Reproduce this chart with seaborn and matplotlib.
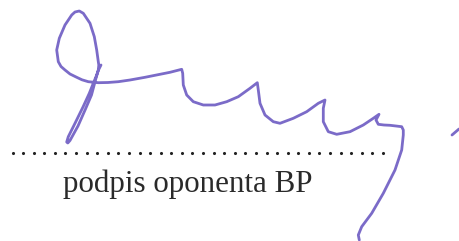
import matplotlib
matplotlib.use("Agg")
import matplotlib.pyplot as plt
import numpy as np
import pandas as pd
import seaborn as sns

# signature stroke in pixel space (x right, y down)
sig_x = [101, 98.5, 96.7, 93.3, 89.3, 83, 75, 68.3, 66.7, 67.8, 70, 78,
         85.5, 91.5, 95.5, 98.3, 98.8, 98.3, 96.7, 94.3, 90, 83.3, 79.3, 75,
         71.7, 65, 59.3, 56.7, 58.3, 61, 65, 70, 76.7, 82, 88.3, 98.3, 108,
         118.3, 130, 145, 160, 170, 177, 181.7, 182.7, 183.3, 186.7, 193.3,
         203.3, 215, 226.7, 238.3, 250, 257.3, 258.3, 260, 265, 273.3, 280,
         293.3, 306.7, 318.3, 325, 323.3, 323.3, 328.3, 336.7, 350, 363.3,
         373.3, 379, 376, 378.3, 384, 390, 396, 401.7, 403.3, 403.3, 401.7,
         395, 383.3, 371.7, 361.7, 358.3, 359.3]
sig_y = [65, 70, 75, 83.3, 93.3, 107, 123.3, 136.7, 142, 143, 140.5, 126,
         109, 95, 80, 70, 65, 61.7, 50, 36.7, 23.3, 13.3, 11, 12,
         15, 25, 38.3, 50, 61.7, 66.5, 70, 74, 77.3, 79.8, 81.7, 82.7, 82.5,
         81.7, 80, 77.3, 74.3, 72.3, 70.5, 69.3, 73.3, 85, 95, 101.7,
         105, 105, 101.7, 96.7, 88.3, 82.7, 90, 103.3, 115, 121.7, 123.3,
         118.3, 111.7, 103.3, 100, 108.3, 121.7, 131.7, 134.3, 131.7, 125,
         118.3, 114.3, 120, 124.3, 125, 125.3, 126, 126.7, 130, 135, 150,
         170, 193.3, 213.3, 226.7, 235, 240]

# stray stroke at the right edge
tail_x = [452, 459]
tail_y = [135, 129]

caption = "podpis oponenta BP"
n_dots = 36

sns.set_style("white")

fig = plt.figure(figsize=(4.59, 2.41), dpi=100)
ax = fig.add_axes([0, 0, 1, 1])

sig = pd.DataFrame({"x": sig_x, "y": sig_y})
tail = pd.DataFrame({"x": tail_x, "y": tail_y})
purple = "#7b6bc8"
sns.lineplot(data=sig, x="x", y="y", sort=False, estimator=None, ax=ax,
             color=purple, linewidth=2.0, solid_capstyle="round",
             solid_joinstyle="round")
sns.lineplot(data=tail, x="x", y="y", sort=False, estimator=None, ax=ax,
             color=purple, linewidth=2.0, solid_capstyle="round")

dots = pd.DataFrame({"x": np.linspace(12.5, 383, n_dots), "y": 153.3})
sns.scatterplot(data=dots, x="x", y="y", ax=ax, color="#222222", s=5,
                linewidth=0)

ax.text(63, 192, caption, ha="left", va="baseline", fontsize=22.3,
        family="Liberation Serif", color="#2a2a2a")

ax.set_xlim(0, 459)
ax.set_ylim(241, 0)
ax.axis("off")

fig.savefig("out.png", dpi=100)
